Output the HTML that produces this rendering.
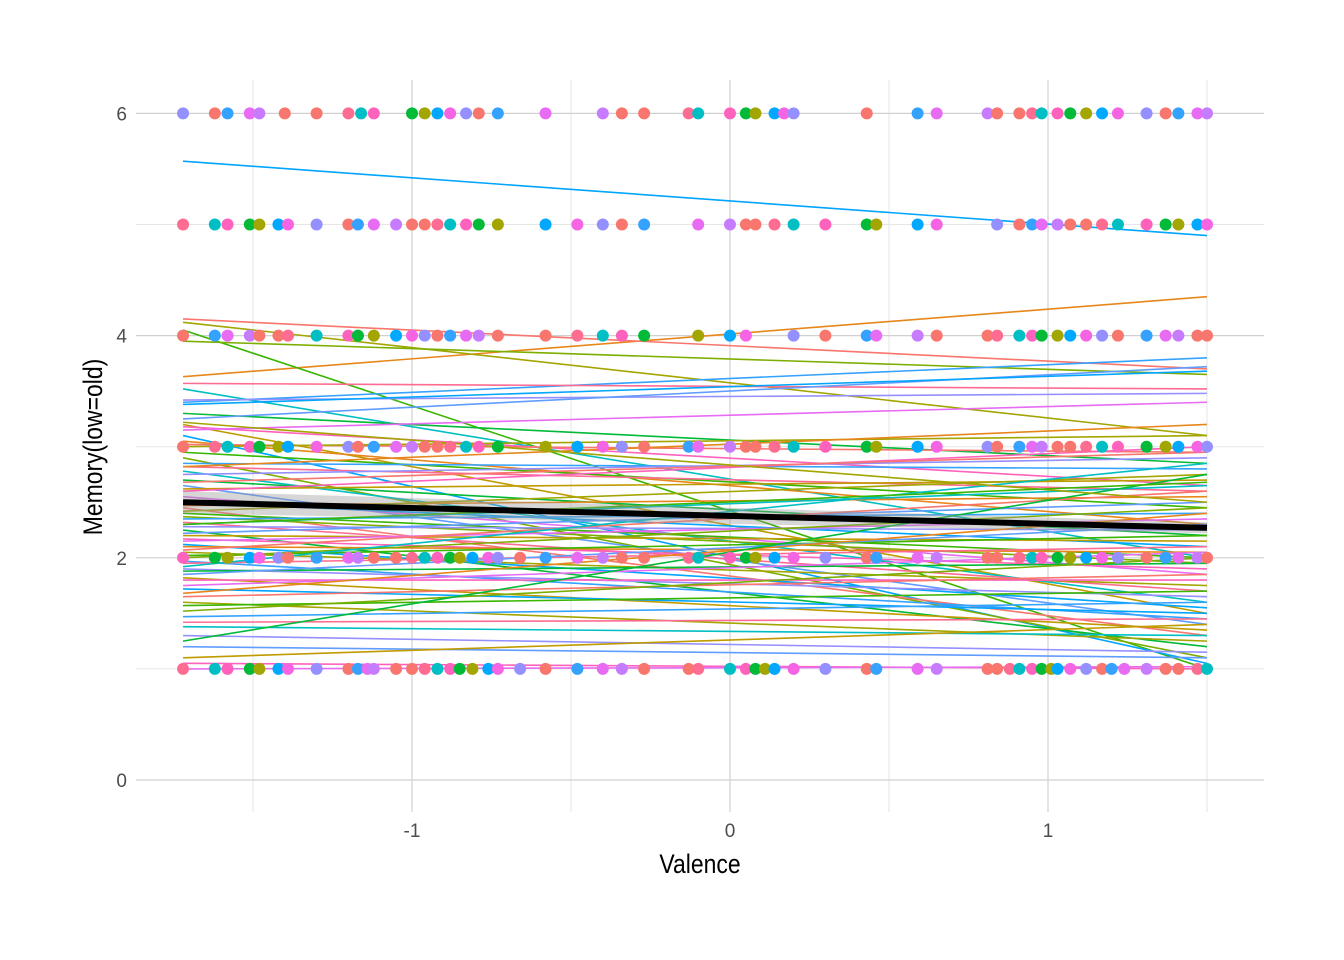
<!DOCTYPE html>
<html><head><meta charset="utf-8"><style>
html,body{margin:0;padding:0;background:#fff;}
svg{display:block;font-family:"Liberation Sans",sans-serif;}
</style></head><body>
<svg id="chart" width="1344" height="960" viewBox="0 0 1344 960" xmlns="http://www.w3.org/2000/svg">
<g id="grid"></g>
<g id="lines"></g>
<g id="points"></g>
<g id="overall"></g>
<g id="axes"></g>
<text x="700" y="873" font-size="27" text-anchor="middle" fill="#000" transform="translate(700,873) scale(0.85,1) translate(-700,-873)">Valence</text>
<text x="0" y="0" font-size="27" text-anchor="middle" fill="#000" transform="translate(102,447) rotate(-90) scale(0.85,1)">Memory(low=old)</text>
</svg>
<script>
const NS="http://www.w3.org/2000/svg";
const xTicks=[-1,0,1];
const xTickLabels=["-1","0","1"];
const xMinor=[-1.5,-0.5,0.5,1.5];
const yTicks=[0,2,4,6];
const yTickLabels=["0","2","4","6"];
const yMinor=[1,3,5];
const row1=[-1.72,-1.62,-1.58,-1.51,-1.48,-1.42,-1.39,-1.30,-1.20,-1.17,-1.14,-1.12,-1.05,-1.00,-0.96,-0.92,-0.88,-0.85,-0.81,-0.76,-0.73,-0.66,-0.58,-0.48,-0.40,-0.34,-0.27,-0.13,-0.10,0.00,0.05,0.08,0.11,0.14,0.20,0.30,0.43,0.46,0.59,0.65,0.81,0.84,0.88,0.91,0.95,0.98,1.01,1.03,1.07,1.12,1.17,1.20,1.24,1.31,1.37,1.41,1.47,1.50];
const row2=[-1.72,-1.62,-1.58,-1.51,-1.48,-1.42,-1.39,-1.30,-1.20,-1.17,-1.12,-1.05,-1.00,-0.96,-0.92,-0.88,-0.85,-0.81,-0.76,-0.73,-0.66,-0.58,-0.48,-0.40,-0.34,-0.27,-0.13,-0.10,0.00,0.05,0.08,0.14,0.20,0.30,0.43,0.46,0.59,0.65,0.81,0.84,0.91,0.95,0.98,1.03,1.07,1.12,1.17,1.22,1.31,1.37,1.41,1.47,1.50];
const row3=[-1.72,-1.62,-1.58,-1.51,-1.48,-1.42,-1.39,-1.30,-1.20,-1.17,-1.12,-1.05,-1.00,-0.96,-0.92,-0.88,-0.83,-0.79,-0.73,-0.58,-0.48,-0.40,-0.34,-0.27,-0.13,-0.10,0.00,0.05,0.08,0.14,0.20,0.30,0.43,0.46,0.59,0.65,0.81,0.84,0.91,0.95,0.98,1.03,1.07,1.12,1.17,1.22,1.31,1.37,1.41,1.47,1.50];
const row4=[-1.72,-1.62,-1.58,-1.51,-1.48,-1.42,-1.39,-1.30,-1.20,-1.17,-1.12,-1.05,-1.00,-0.96,-0.92,-0.88,-0.83,-0.79,-0.73,-0.58,-0.48,-0.40,-0.34,-0.27,-0.10,0.00,0.05,0.20,0.30,0.43,0.46,0.59,0.65,0.81,0.84,0.91,0.95,0.98,1.03,1.07,1.12,1.17,1.22,1.31,1.37,1.41,1.47,1.50];
const row5=[-1.72,-1.62,-1.58,-1.51,-1.48,-1.42,-1.39,-1.30,-1.20,-1.17,-1.12,-1.05,-1.00,-0.96,-0.92,-0.88,-0.83,-0.79,-0.73,-0.58,-0.48,-0.40,-0.34,-0.27,-0.10,0.00,0.05,0.08,0.14,0.20,0.30,0.43,0.46,0.59,0.65,0.84,0.91,0.95,0.98,1.03,1.07,1.12,1.17,1.22,1.31,1.37,1.41,1.47,1.50];
const row6=[-1.72,-1.62,-1.58,-1.51,-1.48,-1.40,-1.30,-1.20,-1.16,-1.12,-1.00,-0.96,-0.92,-0.88,-0.83,-0.79,-0.73,-0.58,-0.40,-0.34,-0.27,-0.13,-0.10,0.00,0.05,0.08,0.14,0.17,0.20,0.43,0.59,0.65,0.81,0.84,0.91,0.95,0.98,1.03,1.07,1.12,1.17,1.22,1.31,1.37,1.41,1.47,1.50];
const rows=[row1,row2,row3,row4,row5,row6];
const lineLeft=[5.57,3.63,4.15,4.12,4.05,3.95,3.40,3.57,3.52,3.42,3.30,3.25,3.20,3.18,3.15,3.10,3.05,3.02,3.00,2.95,2.90,2.85,2.82,2.78,2.75,2.70,2.65,2.62,2.60,2.55,2.50,2.47,2.45,2.42,2.40,2.37,2.35,2.32,2.30,2.28,2.25,2.22,2.20,2.17,2.15,2.12,2.10,2.07,2.05,2.02,2.00,1.97,1.95,1.92,1.90,1.88,1.85,1.82,1.80,1.75,1.72,1.68,1.65,1.60,1.57,1.52,1.47,1.42,1.38,1.30,1.25,1.20,1.10,1.05,1.00,3.38,2.82,2.68,3.22,2.30];
const lineRight=[4.90,4.35,3.70,3.10,1.00,3.65,3.80,3.52,2.00,3.48,2.85,3.72,1.50,2.65,3.40,1.05,2.30,2.95,3.10,2.45,1.10,2.80,2.60,1.60,2.90,2.20,1.40,2.70,3.00,1.85,2.10,2.55,1.30,2.75,2.00,1.95,2.40,1.70,2.65,2.25,1.20,2.50,2.15,1.90,2.35,1.55,2.05,2.60,1.75,2.20,2.45,1.45,2.10,2.85,1.65,1.95,2.30,1.35,1.80,2.05,1.50,2.40,1.85,1.25,1.70,2.00,1.60,1.45,1.30,1.15,2.75,1.10,1.40,1.00,1.02,3.68,3.20,2.95,2.50,2.68];
const lineStartX=-1.72, lineEndX=1.5;
const fitY=[2.50,2.27];
const fitSE=[0.10,0.05];

const px0=136,px1=1264,py0=80,py1=812;
const X=v=>730+v*318;
const Y=v=>780-v*111.1;
const pal=['#F8766D','#E7861B','#C09B00','#A3A500','#7CAE00','#39B600','#00BA38','#00BF7D','#00BFC4','#00B0F6','#35A2FF','#619CFF','#9590FF','#C77CFF','#E76BF3','#FF62BC','#FF6C91','#F564E3'];
const linePal=['#00A5FF','#39B600','#00BFC4','#C09B00','#E7861B','#7CAE00','#9590FF','#FF62BC','#F8766D','#35A2FF','#00BA38','#E76BF3','#A3A500','#FF6C91','#619CFF'];
const ptPal=['#F8766D','#FF62BC','#00A9FF','#F8766D','#C77CFF','#FF6C91','#00BA38','#F564E3','#35A2FF','#F8766D','#00BFC4','#A3A500','#9590FF','#E76BF3'];
function mk(tag,attrs,parent){const e=document.createElementNS(NS,tag);for(const k in attrs)e.setAttribute(k,attrs[k]);parent.appendChild(e);return e;}
const grid=document.getElementById('grid');
xMinor.forEach(v=>{const l=mk('line',{x1:X(v),x2:X(v),y1:py0,y2:py1,stroke:'#e6e6e6','stroke-width':1},grid);

});
yMinor.forEach(v=>{const l=mk('line',{x1:px0,x2:px1,y1:Y(v),y2:Y(v),stroke:'#e6e6e6','stroke-width':1},grid);

});
xTicks.forEach(v=>{const l=mk('line',{x1:X(v),x2:X(v),y1:py0,y2:py1,stroke:'#d0d0d0','stroke-width':1.2},grid);

});
yTicks.forEach(v=>{const l=mk('line',{x1:px0,x2:px1,y1:Y(v),y2:Y(v),stroke:'#d0d0d0','stroke-width':1.2},grid);

});
const lg=document.getElementById('lines');
lineLeft.forEach((a,i)=>{const l=mk('line',{x1:X(lineStartX),y1:Y(a),x2:X(lineEndX),y2:Y(lineRight[i]),stroke:linePal[(i*4)%linePal.length],'stroke-width':1.6},lg);

});
const pg=document.getElementById('points');
let k=0;
rows.forEach((r,ri)=>{r.forEach(v=>{k++;const c=mk('circle',{cx:X(v),cy:Y(ri+1),r:6,fill:ptPal[(k*5)%ptPal.length]},pg);

});});
const og=document.getElementById('overall');
const fx=[lineStartX,lineEndX];
const rb=mk('polygon',{points:`${X(fx[0])},${Y(fitY[0]+fitSE[0])} ${X(fx[1])},${Y(fitY[1]+fitSE[1])} ${X(fx[1])},${Y(fitY[1]-fitSE[1])} ${X(fx[0])},${Y(fitY[0]-fitSE[0])}`,fill:'#999','fill-opacity':0.4},og);


const fl=mk('line',{x1:X(fx[0]),y1:Y(fitY[0]),x2:X(fx[1]),y2:Y(fitY[1]),stroke:'#000','stroke-width':6},og);


const ax=document.getElementById('axes');
xTicks.forEach((v,i)=>{const t=mk('text',{x:X(v),y:837,'font-size':19,'text-anchor':'middle',fill:'#4d4d4d'},ax);t.textContent=xTickLabels[i];

});
yTicks.forEach((v,i)=>{const t=mk('text',{x:127,y:Y(v)+7,'font-size':19,'text-anchor':'end',fill:'#4d4d4d'},ax);t.textContent=yTickLabels[i];

});
</script>
</body></html>
